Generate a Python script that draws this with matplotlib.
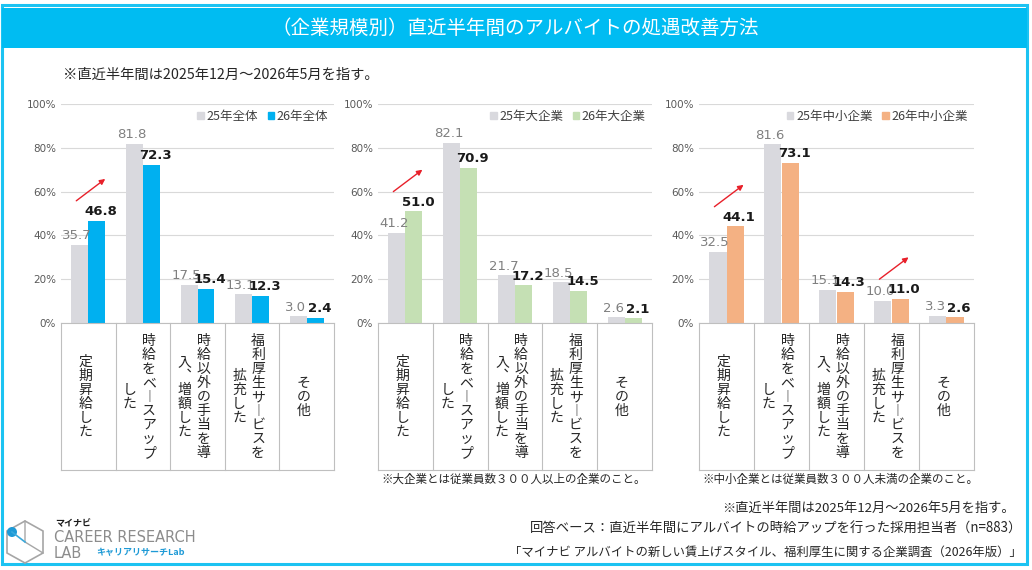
import matplotlib
matplotlib.use('Agg')
import matplotlib.pyplot as plt
from matplotlib.patches import Rectangle, Patch, Polygon, Circle
from matplotlib.transforms import blended_transform_factory
import numpy as np

plt.rcParams['font.family'] = ['Noto Sans CJK JP', 'DejaVu Sans']

title = '（企業規模別）直近半年間のアルバイトの処遇改善方法'
note_top = '※直近半年間は2025年12月～2026年5月を指す。'

categories = ['定期昇給した', '時給をベースアップした', '時給以外の手当を導入、増額した',
              '福利厚生サービスを拡充した', 'その他']
# how each label is broken into vertical columns (right column first)
cat_columns = [['定期昇給した'], ['時給をベースアップ', 'した'],
               ['時給以外の手当を導', '入、増額した'],
               ['福利厚生サービスを', '拡充した'], ['その他']]

all_25 = [35.7, 81.8, 17.5, 13.1, 3.0]
all_26 = [46.8, 72.3, 15.4, 12.3, 2.4]
large_25 = [41.2, 82.1, 21.7, 18.5, 2.6]
large_26 = [51.0, 70.9, 17.2, 14.5, 2.1]
small_25 = [32.5, 81.6, 15.1, 10.0, 3.3]
small_26 = [44.1, 73.1, 14.3, 11.0, 2.6]

legend_25 = ['25年全体', '25年大企業', '25年中小企業']
legend_26 = ['26年全体', '26年大企業', '26年中小企業']
arrow_cats = [[0], [0], [0, 3]]   # categories marked with a red "up" arrow

panel_notes = ['', '※大企業とは従業員数３００人以上の企業のこと。',
               '※中小企業とは従業員数３００人未満の企業のこと。']
foot_notes = ['※直近半年間は2025年12月～2026年5月を指す。',
              '回答ベース：直近半年間にアルバイトの時給アップを行った採用担当者（n=883）',
              '「マイナビ アルバイトの新しい賃上げスタイル、福利厚生に関する企業調査（2026年版）」']

grey = '#D9D9DE'
colors_26 = ['#00B0F0', '#C5E0B4', '#F4B183']
cyan = '#00BCF2'

W, H = 1032, 570
fig = plt.figure(figsize=(W / 100, H / 100), dpi=100)
bg = fig.add_axes([0, 0, 1, 1], zorder=0)
bg.axis('off')

# frame and title bar
bg.add_patch(Rectangle((2, 5), 1025, 559, fill=False, ec='#1CC3F2', lw=2.2))
bg.add_patch(Rectangle((2, 8), 1025, 40, fc=cyan, ec='none'))
bg.text(515, 28, title, color='white', fontsize=14, ha='center', va='center')
bg.text(63, 75, note_top, fontsize=10.3, color='#262626', va='center')

panels = [(61, 334), (378, 652), (699, 974)]
series = [(all_25, all_26), (large_25, large_26), (small_25, small_26)]
bw = 0.31
x = np.arange(len(categories))

vmap = {'ー': '︱', '、': '︑'}

for i, (l, r) in enumerate(panels):
    v25, v26 = series[i]
    ax = fig.add_axes([l / W, 1 - 323 / H, (r - l) / W, 219 / H], zorder=2)
    ax.set_facecolor('none')
    ax.bar(x - bw / 2, v25, bw, color=grey, zorder=2, label=legend_25[i])
    ax.bar(x + bw / 2, v26, bw, color=colors_26[i], zorder=2, label=legend_26[i])
    ax.set_xlim(-0.5, 4.5)
    ax.set_ylim(0, 100)
    ticks = list(range(0, 101, 20))
    ax.set_yticks(ticks)
    ax.set_yticklabels([f'{t}%' for t in ticks], family='DejaVu Sans')
    ax.set_xticks([])
    ax.yaxis.grid(True, color='#D9D9D9', lw=0.8)
    ax.set_axisbelow(True)
    for s in ax.spines.values():
        s.set_visible(False)
    ax.spines['bottom'].set_visible(True)
    ax.spines['bottom'].set_color('#BFBFBF')
    ax.tick_params(axis='y', length=0, labelsize=7.5, labelcolor='#595959', pad=3.5)

    for xi, v in zip(x, v25):
        ax.annotate(f'{v:.1f}', (xi - bw / 2, v), xytext=(-2, 2), textcoords='offset points',
                    ha='center', va='bottom', fontsize=9.5, color='#808080', family='DejaVu Sans')
    for xi, v in zip(x, v26):
        ax.annotate(f'{v:.1f}', (xi + bw / 2, v), xytext=(3, 2), textcoords='offset points',
                    ha='center', va='bottom', fontsize=9.5, color='#1A1A1A',
                    fontweight='bold', family='DejaVu Sans', zorder=4)
    for c in arrow_cats[i]:
        top = v26[c]
        ax.annotate('', xy=(c + 0.31, top + 19), xytext=(c - 0.22, top + 9),
                    arrowprops=dict(arrowstyle='-|>', color='#E8202A', lw=1.0,
                                    mutation_scale=8, shrinkA=0, shrinkB=0))

    leg = ax.legend(handles=[Patch(color=grey), Patch(color=colors_26[i])],
                    labels=[legend_25[i], legend_26[i]], loc='upper right', ncol=2,
                    frameon=False, fontsize=9, handlelength=0.5, handleheight=0.5,
                    handletextpad=0.2, columnspacing=0.8, borderaxespad=0.1,
                    bbox_to_anchor=(1.0, 1.0))
    for t in leg.get_texts():
        t.set_color('#404040')

    # boxes under the axis holding the vertical category labels
    tr = blended_transform_factory(ax.transData, bg.transData)
    for xb in np.arange(-0.5, 5, 1):
        bg.plot([xb, xb], [323, 470], transform=tr, color='#BFBFBF', lw=0.8, clip_on=False)
    bg.plot([-0.5, 4.5], [470, 470], transform=tr, color='#BFBFBF', lw=0.8, clip_on=False)
    cw = (r - l) / 5
    for c, cols in enumerate(cat_columns):
        offs = [-3] if len(cols) == 1 else [6, -13]
        for col, dx in zip(cols, offs):
            k = len(col)
            for j, ch in enumerate(col):
                yy = 397 + (j - (k - 1) / 2) * 14
                bg.text(c + dx / cw, yy, vmap.get(ch, ch), transform=tr, fontsize=10,
                        color='#262626', ha='center', va='center', clip_on=False)
    if panel_notes[i]:
        bg.text(l + 3, 479, panel_notes[i], fontsize=8.3, color='#262626', va='center')

# footnotes
bg.text(1015, 508, foot_notes[0], fontsize=9.5, color='#262626', ha='right', va='center')
bg.text(1022, 529, foot_notes[1], fontsize=9.6, color='#262626', ha='right', va='center')
bg.text(1022, 552, foot_notes[2], fontsize=8.9, color='#262626', ha='right', va='center')

# logo
hexa = [(25, 521), (43, 531), (43, 553), (25, 563), (7, 553), (7, 531)]
bg.add_patch(Polygon(hexa, closed=True, fill=False, ec='#A6A6A6', lw=1.2))
bg.plot([25, 25, 43], [521, 542, 553], color='#A6A6A6', lw=1.0)
bg.plot([12, 25], [532, 542], color='#39A9DC', lw=1.2)
bg.add_patch(Circle((12, 532), 5, fc='#1E9AD6', ec='none'))
bg.text(55, 524, 'マイナビ', fontsize=6.5, fontweight='bold', color='#1A1A1A', va='center')
bg.text(54, 538, 'CAREER RESEARCH', fontsize=10.5, color='#8C8C8C', va='center',
        family='DejaVu Sans')
bg.text(54, 553, 'LAB', fontsize=10.5, color='#8C8C8C', va='center', family='DejaVu Sans')
bg.text(96, 553, 'キャリアリサーチLab', fontsize=6.5, fontweight='bold', color='#1E9AD6',
        va='center')

bg.set_xlim(0, W)
bg.set_ylim(H, 0)

fig.savefig('out.png', dpi=100)
